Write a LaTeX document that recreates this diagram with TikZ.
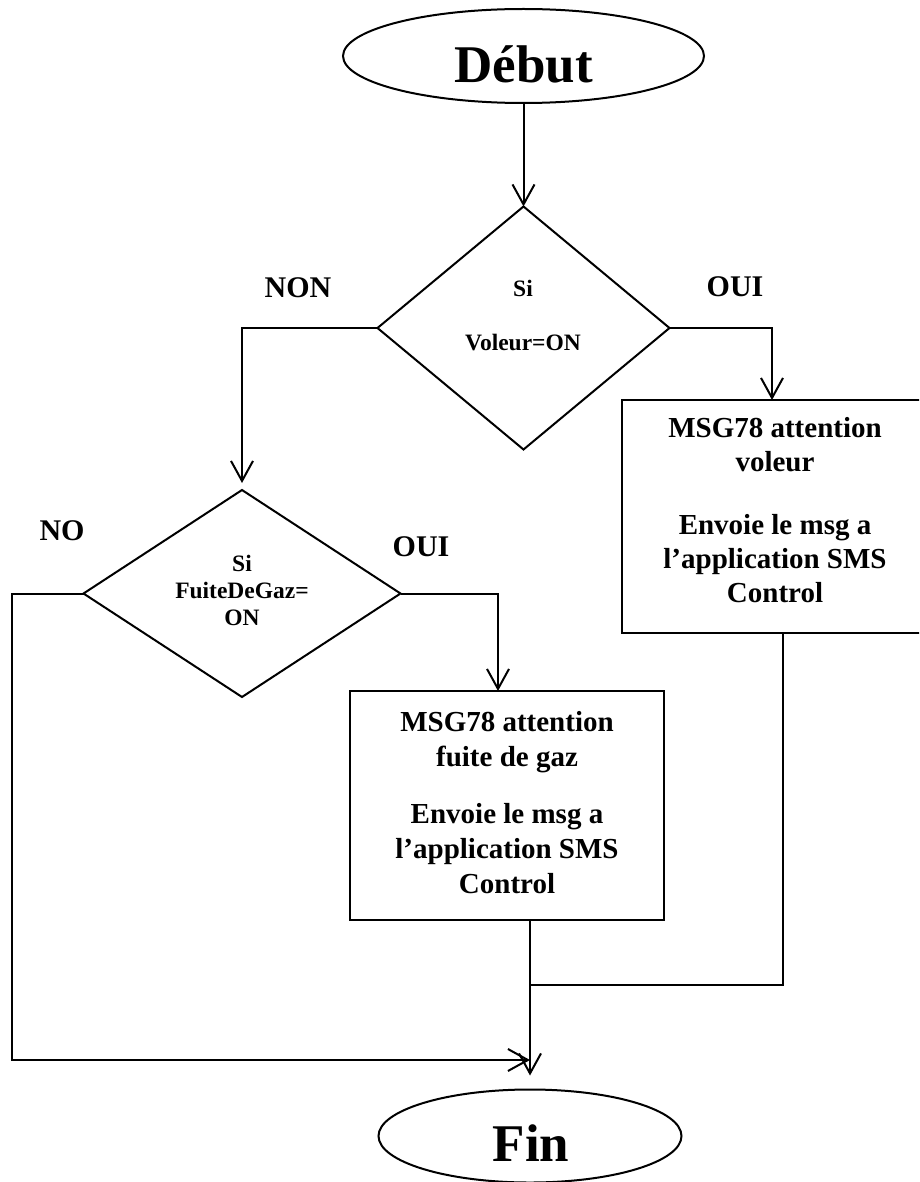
\documentclass[tikz,border=0pt]{standalone}
\usepackage{fontspec}
\setmainfont{Liberation Serif}
\usetikzlibrary{shapes.geometric,arrows.meta}
\begin{document}
\begin{tikzpicture}[x=1pt,y=-1pt,
  line width=2pt,
  arr/.style={-{Straight Barb[length=20pt,width=22pt]}},
  term/.style={ellipse,draw,inner sep=0pt,outer sep=0pt},
  termtext/.style={inner sep=0pt,font=\fontsize{53}{60}\selectfont\bfseries},
  decision/.style={diamond,draw,inner sep=0pt,outer sep=0pt},
  process/.style={rectangle,draw,inner sep=0pt,outer sep=0pt},
  cond/.style={align=center,inner sep=0pt,font=\fontsize{23.5}{27}\selectfont\bfseries},
  msg/.style={align=center,inner sep=0pt,font=\fontsize{29}{35}\selectfont\bfseries},
  branch/.style={inner sep=0pt,font=\fontsize{30}{36}\selectfont\bfseries}]
\useasboundingbox (0,0) rectangle (919,1182);
\clip (0,0) rectangle (919,1182);

% start / end terminals
\node[term, minimum width=361pt, minimum height=94pt] (debut) at (523.5,56) {};
\node[termtext] (debutlabel) at (523.5,64.5) {Début};
\node[term, minimum width=303pt, minimum height=93pt] (fin) at (530,1136) {};
\node[termtext] (finlabel) at (531,1143) {Fin};

% decisions
\node[decision, minimum width=292pt, minimum height=243pt] (d1) at (523.5,328) {};
\node[cond] (d1text) at (523,316) {Si\\[27pt]Voleur=ON};
\node[decision, minimum width=317pt, minimum height=207pt] (d2) at (242,593.5) {};
\node[cond] (d2text) at (242,590) {Si\\FuiteDeGaz=\\ON};

% actions
\node[process, minimum width=300pt, minimum height=233pt] (r1) at (772,516.5) {};
\node[msg, font=\fontsize{29}{34}\selectfont\bfseries] (r1text) at (775,510)
  {MSG78 attention\\voleur\\[29pt]Envoie le msg a\\l’application SMS\\Control};
\node[process, minimum width=314pt, minimum height=229pt] (r2) at (507,805.5) {};
\node[msg] (r2text) at (507,802.5)
  {MSG78 attention\\fuite de gaz\\[22pt]Envoie le msg a\\l’application SMS\\Control};

% branch labels
\node[branch] (non) at (298,288) {NON};
\node[branch] (oui1) at (735,287) {OUI};
\node[branch] (no) at (62,531) {NO};
\node[branch] (oui2) at (421,547) {OUI};

% connectors
\coordinate (nocorner) at (12,1060);
\coordinate (merge) at (fin.north |- nocorner);
\coordinate (r1turn) at (783,985);

\draw[arr] (debut.south) -- (d1.north);
\draw[arr, shorten >=7pt] (d1.west) -| (d2.north);
\draw[arr] (d1.east) -| (r1.north);
\draw[arr] (d2.east) -| ([xshift=-9pt]r2.north);
\draw[arr] (d2.west) -| (nocorner) -- (merge);
\draw[arr, shorten >=14pt] (r2.south -| fin.north) -- (fin.north);
\draw (r1.south -| r1turn) -- (r1turn) -- (r1turn -| fin.north);
\end{tikzpicture}
\end{document}
